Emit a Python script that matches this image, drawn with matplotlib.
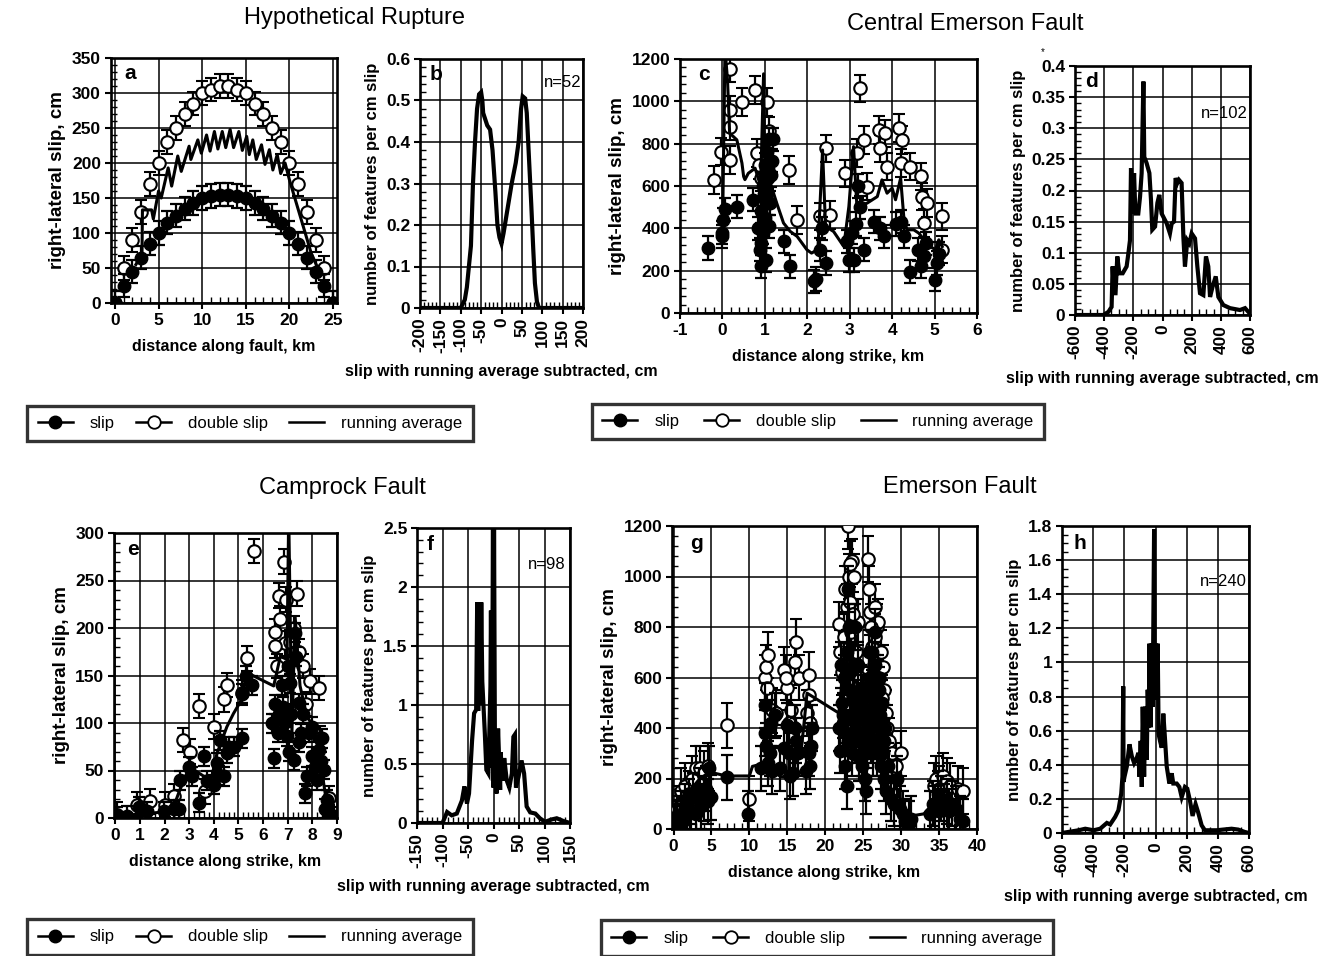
import matplotlib
matplotlib.use("Agg")
import matplotlib.pyplot as plt
from matplotlib.ticker import MultipleLocator, FuncFormatter
from matplotlib.lines import Line2D

plt.rcParams['font.family'] = ['Liberation Sans', 'DejaVu Sans']

# ---------------- Hypothetical rupture ----------------
A_KM = [0, 1, 2, 3, 4, 5, 6, 7, 8, 9, 10, 11, 12, 13, 14, 15, 16, 17, 18, 19, 20, 21, 22, 23, 24, 25]
A_SLIP = [0, 25, 45, 65, 85, 100, 115, 125, 135, 143, 150, 153, 155, 155, 153, 150, 143, 135, 125, 115, 100, 85, 65, 45, 25, 0]
A_DOUBLE = [0, 50, 90, 130, 170, 200, 230, 250, 270, 285, 300, 305, 310, 310, 305, 300, 285, 270, 250, 230, 200, 170, 130, 90, 50, 0]
A_ERR = 17
A_RA_KM = [2.4, 3.1, 3.15, 4.2, 4.4, 5.0, 5.3, 6.1, 6.5, 7.2, 7.6, 8.5, 8.7, 9.5, 9.9, 10.5, 10.9, 11.4,
           11.8, 12.3, 12.7, 13.2, 13.6, 14.2, 14.6, 15.1, 15.4, 15.8, 16.2, 16.8, 17.2, 17.7, 18.1, 18.6,
           19.0, 19.5, 20.0, 22.5, 23.6]
A_RA = [55, 70, 133, 133, 120, 160, 150, 193, 167, 210, 188, 224, 205, 233, 214, 240, 217, 245,
        220, 245, 222, 248, 222, 245, 218, 238, 212, 233, 205, 226, 198, 219, 190, 212,
        185, 200, 176, 71, 40]

B_DIFF = [-200, -100, -90, -85, -75, -70, -65, -60, -55, -50, -47, -45, -35, -28, -22, -15, -10, -5, 0,
          5, 15, 25, 35, 42, 48, 52, 58, 62, 68, 73, 78, 82, 87, 92, 200]
B_DENS = [0, 0, 0.02, 0.05, 0.15, 0.3, 0.4, 0.48, 0.515, 0.52, 0.5, 0.47, 0.44, 0.43, 0.38, 0.28, 0.2, 0.17, 0.155,
          0.18, 0.24, 0.3, 0.35, 0.4, 0.48, 0.51, 0.505, 0.47, 0.35, 0.25, 0.14, 0.06, 0.015, 0, 0]

# ---------------- Central Emerson Fault ----------------
C_SLIP_KM = [-0.33, 0.0, 0.0, 0.02, 0.05, 0.34, 0.73, 0.85, 0.88, 0.9, 0.92, 0.95, 0.95, 1.0, 1.0, 1.02, 1.05,
             1.05, 1.08, 1.1, 1.15, 1.2, 1.1, 1.44, 1.6, 2.17, 2.2, 2.3, 2.35, 2.43, 2.94, 2.98, 3.1, 3.15,
             3.2, 3.33, 3.57, 3.72, 3.8, 4.2, 4.28, 4.43, 4.67, 4.75, 4.8, 5.02, 5.06, 5.1,
             0.92, 0.97, 1.03, 1.07, 1.12, 1.17, 3.05, 3.25, 4.1, 4.6]
C_SLIP = [307, 362, 380, 440, 490, 503, 535, 400, 300, 220, 480, 600, 380, 700, 450, 560, 760,
          520, 640, 820, 650, 820, 410, 338, 220, 149, 160, 300, 400, 236, 338, 250, 250, 420,
          600, 299, 432, 400, 362, 432, 362, 196, 220, 267, 330, 157, 236, 280,
          330, 560, 250, 680, 520, 720, 380, 500, 420, 300]
C_SLIP_ERR = 55
C_DBL_KM = [-0.21, -0.03, 0.18, 0.18, 0.17, 0.18, 0.46, 0.77, 1.05, 0.81, 0.86, 1.56, 1.76, 2.43, 2.31, 2.54,
            2.9, 3.25, 3.33, 3.17, 3.41, 3.69, 3.72, 3.84, 3.87, 4.16, 4.24, 4.2, 4.43, 4.67, 4.71, 4.83,
            4.75, 5.18, 5.18, 0.9, 1.1]
C_DBL = [629, 762, 1155, 959, 880, 723, 998, 1053, 998, 755, 700, 676, 440, 778, 456, 464,
         660, 1061, 818, 755, 597, 865, 778, 849, 692, 873, 818, 708, 692, 645, 550, 519,
         425, 456, 299, 640, 860]
C_DBL_ERR = 65
C_RA_KM = [0.0, 0.06, 0.12, 0.17, 0.34, 0.46, 0.5, 0.53, 0.61, 0.77, 0.9, 0.97, 1.0, 1.13, 1.28, 1.44, 1.6,
           1.76, 1.99, 2.1, 2.25, 2.36, 2.43, 2.62, 2.86, 2.98, 3.09, 3.17, 3.41, 3.65, 3.76, 3.88, 4.0,
           4.08, 4.2, 4.28, 4.35, 4.51, 4.63, 4.75, 4.9, 5.02, 5.1, 5.18]
C_RA = [350, 1250, 1100, 850, 818, 708, 645, 630, 660, 684, 600, 1130, 700, 613, 519, 425, 385,
        362, 299, 283, 300, 770, 409, 385, 314, 503, 786, 503, 519, 550, 629, 566, 590,
        535, 637, 440, 393, 393, 377, 346, 314, 299, 346, 314]

D_DIFF = [-600, -406, -371, -349, -342, -333, -322, -310, -296, -273, -246, -234, -223, -216, -205, -195,
          -186, -166, -154, -143, -131, -125, -109, -90, -79, -70, -51, -35, -22, -6, 29, 51, 63, 79, 90,
          102, 113, 131, 143, 154, 170, 184, 200, 223, 239, 257, 280, 298, 314, 326, 344, 365, 383, 417,
          463, 531, 566, 600]
D_DENS = [0, 0, 0.005, 0.013, 0.078, 0.035, 0.035, 0.094, 0.067, 0.067, 0.078, 0.099, 0.12, 0.236, 0.163, 0.228,
          0.163, 0.163, 0.19, 0.228, 0.375, 0.254, 0.244, 0.228, 0.185, 0.137, 0.142, 0.18, 0.193, 0.163, 0.147,
          0.131, 0.147, 0.15, 0.22, 0.212, 0.217, 0.212, 0.126, 0.078, 0.12, 0.115, 0.131, 0.123, 0.078, 0.035,
          0.032, 0.094, 0.078, 0.029, 0.046, 0.062, 0.029, 0.016, 0.011, 0.008, 0.011, 0.002]

# ---------------- Camprock Fault ----------------
E_SLIP_KM = [0.07, 0.47, 0.95, 1.29, 1.96, 2.37, 2.57, 2.64, 2.98, 3.11, 3.38, 3.59, 3.72, 3.99, 4.13, 4.26,
             4.4, 4.53, 4.8, 5.14, 5.14, 5.3, 5.55, 6.36, 6.43, 6.63, 6.8, 6.97, 7.1, 7.24, 7.3, 7.44, 7.54,
             7.71, 7.78, 7.98, 8.12, 8.25, 8.39, 8.46, 8.6, 8.66, 8.86,
             6.5, 6.6, 6.75, 6.85, 7.0, 7.05, 7.15, 7.35, 7.45, 7.6, 7.85, 8.0, 8.2, 8.35, 8.5, 4.2, 4.6]
E_SLIP = [2, 2.5, 12, 7, 7, 9, 9, 40, 54, 44, 16, 65, 39, 35, 58, 82,
          44, 68, 75, 84, 131, 150, 140, 100, 63, 110, 117, 86, 142, 61, 195, 121, 89,
          26, 44, 96, 54, 72, 84, 51, 19, 3.5, 2,
          120, 90, 140, 100, 160, 70, 110, 170, 80, 110, 90, 65, 40, 60, 10, 45, 75]
E_SLIP_ERR = 10
E_DBL_KM = [0.07, 0.88, 1.42, 2.03, 2.37, 2.77, 3.04, 3.38, 3.65, 4.02, 4.4, 4.53, 5.14, 5.35, 5.62, 6.5,
            6.63, 6.7, 6.86, 6.9, 7.37, 7.62, 7.92, 8.25, 8.32, 8.66, 6.5,
            6.55, 6.95, 7.1, 7.25, 7.45, 7.75]
E_DBL = [3.5, 14, 17.5, 14, 23, 82, 70, 118, 28, 96, 125, 140, 132, 168, 281, 196,
         234, 210, 270, 184, 236, 160, 144, 137, 84, 21, 181,
         160, 230, 185, 200, 175, 120]
E_DBL_ERR = 13
E_RA_KM = [0, 2.3, 2.57, 2.9, 3.18, 3.59, 3.92, 4.13, 4.53, 4.8, 5.14, 5.35, 6.43, 6.7, 6.97, 7.04, 7.17,
           7.3, 7.5, 7.78, 8.05, 8.32, 8.6, 9.0]
E_RA = [2, 7, 26, 47, 51, 44, 44, 68, 96, 110, 125, 153, 139, 170, 167, 320, 89,
        212, 139, 107, 96, 61, 12, 2]

F_DIFF = [-150, -100, -91, -82, -72, -62, -57, -54, -52, -48, -42, -38, -34, -32, -30, -28, -26, -24, -22,
          -17, -14, -10, -6, -5, -3, -1, 0, 1, 3, 6, 9, 13, 14, 18, 21, 26, 31, 36, 39, 42, 44, 49, 55, 60,
          65, 72, 82, 91, 101, 114, 124, 137, 150]
F_DENS = [0, 0, 0.093, 0.065, 0.08, 0.19, 0.31, 0.22, 0.165, 0.25, 0.7, 0.93, 0.96, 1.87, 0.95, 1.87, 1.0, 1.87, 1.2,
          0.76, 0.45, 0.42, 1.16, 1.8, 0.47, 2.6, 0.3, 2.6, 0.4, 0.25, 0.8, 0.28, 0.6, 0.36, 0.55, 0.36, 0.3,
          0.42, 0.73, 0.75, 0.3, 0.39, 0.53, 0.42, 0.14, 0.09, 0.08, 0.04, 0.01, 0.03, 0.04, 0.017, 0]

# ---------------- Emerson Fault ----------------
G_SLIP_KM = [0.0, 0.3, 0.5, 0.8, 1.0, 1.2, 1.5, 1.8, 2.0, 2.3, 2.6, 3.0, 3.3, 3.6, 4.0, 4.3, 4.6, 4.9, 4.7,
             7.0, 9.8, 11.5, 12.0, 12.2, 12.4, 12.7, 13.0, 13.4, 14.0, 14.5, 15.0, 15.4, 15.8, 16.0, 16.4,
             17.5, 17.8, 18.0, 18.2,
             21.8, 22.0, 22.2, 22.4, 22.5, 22.6, 22.8, 22.9, 23.0, 23.1, 23.2, 23.4, 23.5, 23.7, 23.8, 24.0,
             24.2, 24.4, 24.6, 24.8, 25.0, 25.2, 25.4, 25.6, 25.8, 26.0, 26.2, 26.3, 26.5, 26.7, 26.9, 27.0,
             27.2, 27.4, 27.6, 27.8, 28.0, 28.3, 28.6, 29.0, 29.4, 29.8, 30.2, 30.5, 31.0, 31.3,
             33.8, 34.2, 34.5, 34.8, 35.0, 35.3, 35.6, 36.0, 36.3, 36.7, 37.2, 37.8, 38.2,
             22.1, 22.3, 22.7, 23.05, 23.3, 23.6, 23.9, 24.1, 24.3, 24.5, 24.7, 24.9, 25.1, 25.3, 25.5, 25.7,
             25.9, 26.1, 26.4, 26.6, 26.8, 27.1, 27.3, 27.5, 27.7, 27.9, 12.1, 12.9, 15.2, 16.2, 18.1]
G_SLIP = [0, 20, 40, 10, 60, 30, 90, 60, 110, 70, 130, 60, 150, 90, 120, 160, 110, 125, 240,
          205, 60, 240, 490, 330, 260, 300, 230, 450, 240, 320, 410, 210, 220, 400, 300,
          230, 300, 250, 400,
          400, 310, 500, 420, 600, 250, 170, 700, 350, 800, 550, 450, 300, 650, 380, 350,
          500, 280, 450, 300, 520, 200, 150, 400, 600, 350, 700, 300, 780, 500, 600, 350,
          450, 250, 300, 200, 150, 250, 120, 100, 200, 80, 60, 30, 20, 40,
          60, 100, 80, 140, 70, 120, 90, 110, 70, 100, 80, 40, 30,
          650, 450, 380, 950, 620, 520, 800, 420, 650, 380, 560, 250, 350, 480, 300, 700,
          450, 550, 420, 650, 300, 550, 380, 500, 350, 400, 380, 420, 300, 350, 330]
G_SLIP_ERR = 90
G_DBL_KM = [0.5, 1.0, 1.5, 2.0, 2.5, 3.0, 3.5, 4.0, 4.5, 7.0, 10.0, 12.0, 12.2, 12.5, 13.0, 13.5, 14.5, 15.0,
            15.5, 16.2, 16.5, 17.6, 17.8, 18.0, 21.8, 22.2, 22.5, 22.8, 23.0, 23.1, 23.3, 23.5, 23.8, 23.4,
            24.0, 24.3, 24.6, 25.0, 25.6, 25.9, 26.2, 26.5, 26.8, 27.0, 27.3, 27.6, 27.8, 28.0, 28.4, 28.8,
            29.3, 30.0, 34.3, 34.6, 35.0, 35.5, 36.0, 36.5, 37.5, 38.2,
            22.0, 22.6, 23.2, 23.6, 24.2, 24.8, 25.3, 25.8, 26.0, 26.4, 26.6, 27.1, 27.5, 28.2, 12.3, 14.8,
            15.2, 16.0, 17.9]
G_DBL = [80, 150, 170, 140, 200, 240, 240, 220, 250, 410, 120, 600, 640, 690, 470, 460, 630, 560,
         470, 740, 600, 460, 610, 420, 810, 620, 760, 880, 1200, 1000, 900, 1060, 1000, 780,
         700, 820, 600, 500, 1070, 860, 720, 880, 800, 820, 700, 640, 550, 460, 350, 300,
         250, 300, 170, 200, 160, 210, 190, 170, 160, 150,
         700, 950, 1050, 850, 650, 550, 450, 950, 800, 650, 760, 600, 520, 400, 560, 600,
         420, 660, 530]
G_DBL_ERR = 90
G_RA_KM = [0, 0.8, 1.6, 2.4, 3.2, 4.0, 4.8, 7.0, 10.0, 10.4, 11.3, 12.4, 13.0, 14.1, 15.9, 16.3, 16.8, 17.6,
           21.8, 22.4, 23.0, 23.5, 24.0, 24.6, 25.2, 25.8, 26.4, 27.0, 27.6, 28.2, 28.8, 29.5, 30.2, 31.0,
           33.0, 34.5, 36.0, 38.0]
G_RA = [0, 60, 110, 160, 190, 210, 225, 210, 210, 248, 255, 215, 230, 208, 202, 420, 300, 538,
        459, 650, 520, 700, 480, 560, 430, 650, 520, 560, 400, 300, 220, 150, 90, 50,
        60, 110, 90, 60]

H_DIFF = [-600, -493, -451, -397, -355, -312, -291, -259, -238, -220, -212, -207, -205, -199, -184, -167,
          -152, -137, -120, -110, -103, -95, -88, -82, -73, -65, -56, -50, -43, -39, -31, -24, -18, -14, -9,
          -5, -1, 8, 14, 20, 29, 40, 50, 59, 72, 89, 104, 114, 136, 153, 168, 189, 204, 221, 238, 257, 274,
          296, 317, 392, 434, 488, 531, 573, 600]
H_DENS = [0, 0.016, 0.025, 0.016, 0.025, 0.059, 0.05, 0.094, 0.133, 0.23, 0.33, 0.86, 0.3, 0.33, 0.39, 0.52,
          0.45, 0.41, 0.44, 0.47, 0.33, 0.54, 0.27, 0.74, 0.33, 0.74, 0.43, 0.84, 0.62, 1.11, 0.62, 1.11, 0.74,
          1.21, 1.78, 0.78, 1.11, 0.78, 1.11, 0.58, 0.54, 0.5, 0.7, 0.58, 0.39, 0.29, 0.35, 0.29, 0.29, 0.27,
          0.21, 0.27, 0.26, 0.19, 0.1, 0.17, 0.12, 0.045, 0.016, 0.016, 0.02, 0.025, 0.02, 0.006, 0]

W, H = 1322, 956
fig = plt.figure(figsize=(W / 100, H / 100), dpi=100)


def panel(left, top, right, bottom):
    # axes placed by its pixel box on the page
    return fig.add_axes([left / W, 1 - bottom / H, (right - left) / W, (bottom - top) / H])


def fmt(v, pos):
    if abs(v) < 1e-9:
        v = 0
    return f"{round(v, 4):g}"


def style(ax, xlim, ylim, xmaj, xmin, ymaj, ymin, letter, rotate=False):
    ax.set_xlim(*xlim)
    ax.set_ylim(*ylim)
    ax.xaxis.set_major_locator(MultipleLocator(xmaj))
    ax.xaxis.set_minor_locator(MultipleLocator(xmin))
    ax.yaxis.set_major_locator(MultipleLocator(ymaj))
    ax.yaxis.set_minor_locator(MultipleLocator(ymin))
    ax.xaxis.set_major_formatter(FuncFormatter(fmt))
    ax.yaxis.set_major_formatter(FuncFormatter(fmt))
    ax.grid(True, which='major', color='black', lw=1.1)
    ax.tick_params(which='major', direction='out', length=4, width=1.5, labelsize=12.5, pad=3)
    ax.tick_params(which='minor', direction='in', length=4, width=1)
    for s in ax.spines.values():
        s.set_linewidth(1.9)
    for lab in ax.get_xticklabels() + ax.get_yticklabels():
        lab.set_fontweight('bold')
    if rotate:
        for lab in ax.get_xticklabels():
            lab.set_rotation(90)
    ax.text(0.06, 0.975, letter, transform=ax.transAxes, fontsize=15, fontweight='bold',
            va='top', ha='left')


def slip_plot(ax, x1, y1, e1, x2, y2, e2, xr, yr):
    ax.errorbar(x2, y2, yerr=e2, fmt='o', ms=9, mfc='white', mec='black', mew=1.5,
                ecolor='black', elinewidth=1.6, capsize=4.5, capthick=1.6, zorder=3)
    ax.plot(xr, yr, color='black', lw=2.2, zorder=4)
    ax.errorbar(x1, y1, yerr=e1, fmt='o', ms=9, mfc='black', mec='black',
                ecolor='black', elinewidth=1.6, capsize=4.5, capthick=1.6, zorder=5)


def hist_plot(ax, x, y):
    ax.plot(x, y, color='black', lw=3, solid_joinstyle='miter', zorder=4)


xlab_kw = dict(fontsize=11.5, fontweight='bold', labelpad=8)
slip_ylab_kw = dict(fontsize=13.5, fontweight='bold')
hist_ylab_kw = dict(fontsize=12, fontweight='bold')
hist_xlabel = 'slip with running average subtracted, cm'
hist_ylabel = 'number of features per cm slip'

# a
ax = panel(110.6, 58, 337.4, 303)
slip_plot(ax, A_KM, A_SLIP, A_ERR, A_KM, A_DOUBLE, A_ERR, A_RA_KM, A_RA)
style(ax, (-0.5, 25.5), (0, 350), 5, 1, 50, 10, 'a')
ax.set_xlabel('distance along fault, km', **xlab_kw)
ax.set_ylabel('right-lateral slip, cm', **slip_ylab_kw)

# b
ax = panel(420, 59, 583, 308)
hist_plot(ax, B_DIFF, B_DENS)
style(ax, (-200, 200), (0, 0.6), 50, 10, 0.1, 0.02, 'b', rotate=True)
ax.text(0.99, 0.905, 'n=52', transform=ax.transAxes, ha='right', va='center', fontsize=12)
ax.set_xlabel(hist_xlabel, **xlab_kw)
ax.set_ylabel(hist_ylabel, **hist_ylab_kw)

# c
ax = panel(680, 59, 977, 313)
slip_plot(ax, C_SLIP_KM, C_SLIP, C_SLIP_ERR, C_DBL_KM, C_DBL, C_DBL_ERR, C_RA_KM, C_RA)
style(ax, (-1, 6), (0, 1200), 1, 0.2, 200, 40, 'c')
ax.set_xlabel('distance along strike, km', **xlab_kw)
ax.set_ylabel('right-lateral slip, cm', **slip_ylab_kw)

# d
ax = panel(1075, 66, 1250, 315)
hist_plot(ax, D_DIFF, D_DENS)
style(ax, (-600, 600), (0, 0.4), 200, 50, 0.05, 0.01, 'd', rotate=True)
ax.text(0.99, 0.81, 'n=102', transform=ax.transAxes, ha='right', va='center', fontsize=12)
ax.set_xlabel(hist_xlabel, **xlab_kw)
ax.set_ylabel(hist_ylabel, **hist_ylab_kw)
fig.text(1043 / W, 1 - 52 / H, '*', fontsize=7, ha='center', va='center')

# e
ax = panel(114, 533, 337, 818)
slip_plot(ax, E_SLIP_KM, E_SLIP, E_SLIP_ERR, E_DBL_KM, E_DBL, E_DBL_ERR, E_RA_KM, E_RA)
style(ax, (-0.05, 9), (0, 300), 1, 0.2, 50, 10, 'e')
ax.set_xlabel('distance along strike, km', **xlab_kw)
ax.set_ylabel('right-lateral slip, cm', **slip_ylab_kw)

# f
ax = panel(417, 528, 570, 823)
hist_plot(ax, F_DIFF, F_DENS)
style(ax, (-150, 150), (0, 2.5), 50, 10, 0.5, 0.1, 'f', rotate=True)
ax.text(0.97, 0.875, 'n=98', transform=ax.transAxes, ha='right', va='center', fontsize=12)
ax.set_xlabel(hist_xlabel, **xlab_kw)
ax.set_ylabel(hist_ylabel, **hist_ylab_kw)

# g
ax = panel(672, 526, 977, 829)
slip_plot(ax, G_SLIP_KM, G_SLIP, G_SLIP_ERR, G_DBL_KM, G_DBL, G_DBL_ERR, G_RA_KM, G_RA)
style(ax, (-0.2, 40), (0, 1200), 5, 1, 200, 40, 'g')
ax.set_xlabel('distance along strike, km', **xlab_kw)
ax.set_ylabel('right-lateral slip, cm', **slip_ylab_kw)

# h
ax = panel(1062, 526, 1249, 833)
hist_plot(ax, H_DIFF, H_DENS)
style(ax, (-600, 600), (0, 1.8), 200, 50, 0.2, 0.05, 'h', rotate=True)
ax.text(0.99, 0.82, 'n=240', transform=ax.transAxes, ha='right', va='center', fontsize=12)
ax.set_xlabel('slip with running averge subtracted, cm', **xlab_kw)
ax.set_ylabel(hist_ylabel, **hist_ylab_kw)

# group titles
title_kw = dict(fontsize=17, ha='center', va='center')
fig.text(355 / W, 1 - 18 / H, 'Hypothetical Rupture', **title_kw)
fig.text(965 / W, 1 - 24 / H, 'Central Emerson Fault', **title_kw)
fig.text(342 / W, 1 - 488 / H, 'Camprock Fault', **title_kw)
fig.text(960 / W, 1 - 487 / H, 'Emerson Fault', **title_kw)

# legends under each pair
handles = [
    Line2D([], [], color='black', lw=1.8, marker='o', ms=9, mfc='black', mec='black'),
    Line2D([], [], color='black', lw=1.8, marker='o', ms=9, mfc='white', mec='black', mew=1.3),
    Line2D([], [], color='black', lw=1.8),
]
labels = ['slip', 'double slip', 'running average']
for cx, cy, gap in [(250, 423.5, 1.3), (818, 421.5, 1.5), (250, 937, 1.3), (827, 938, 1.5)]:
    leg = fig.legend(handles, labels, loc='center', bbox_to_anchor=(cx / W, 1 - cy / H), ncol=3,
                     frameon=True, fancybox=False, edgecolor='black', fontsize=12,
                     handlelength=2.1, handletextpad=1.0, columnspacing=gap, borderpad=0.62)
    leg.get_frame().set_linewidth(2.4)

fig.savefig('out.png', dpi=100)
